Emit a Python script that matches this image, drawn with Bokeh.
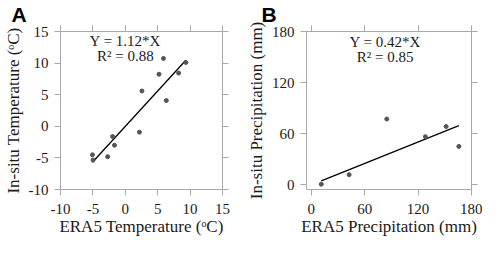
from bokeh.plotting import figure
from bokeh.layouts import row
from bokeh.models import LinearAxis, FixedTicker, Range1d, Label, Title
from bokeh.embed import file_html
from bokeh.resources import INLINE

# Panel A: temperature (°C)
era5_temp = [-5.07, -4.98, -2.73, -1.96, -1.67, 2.18, 2.57, 5.2, 5.89, 6.33, 8.23, 9.34]
insitu_temp = [-4.51, -5.34, -4.81, -1.62, -2.99, -0.93, 5.59, 8.24, 10.74, 4.07, 8.43, 10.1]
temp_slope = 1.12
temp_r2 = 0.88
temp_ticks = [-10, -5, 0, 5, 10, 15]
temp_tick_labels = ["-10", "-5", "0", "5", "10", "15"]

# Panel B: precipitation (mm)
era5_prec = [11.2, 42.5, 84.8, 128.2, 151.5, 165.8]
insitu_prec = [0.8, 12.0, 77.3, 56.5, 68.5, 45.2]
prec_slope = 0.42
prec_r2 = 0.85
prec_ticks = [0, 60, 120, 180]
prec_tick_labels = ["0", "60", "120", "180"]

SERIF = "Liberation Serif"
AXIS_COLOR = "#a8a8a8"
TEXT_COLOR = "#1a1a1a"


def style_axis(ax, ticks, labels, show_labels=True):
    ax.ticker = FixedTicker(ticks=ticks)
    ax.axis_line_color = AXIS_COLOR
    ax.axis_line_width = 1
    ax.major_tick_line_color = AXIS_COLOR
    ax.major_tick_out = 6
    ax.major_tick_in = 0
    ax.minor_tick_line_color = None
    ax.major_label_text_font = SERIF
    ax.major_label_text_font_size = "15px"
    ax.major_label_text_color = TEXT_COLOR
    ax.major_label_text_line_height = 1.0
    ax.major_label_standoff = 6
    ax.axis_label_text_font = SERIF
    ax.axis_label_text_font_size = "17px"
    ax.axis_label_text_font_style = "normal"
    ax.axis_label_text_color = TEXT_COLOR
    ax.axis_label_text_line_height = 0.9
    ax.axis_label_standoff = 3
    if show_labels:
        ax.major_label_overrides = {t: l for t, l in zip(ticks, labels)}
    else:
        ax.major_label_overrides = {t: "" for t in ticks}
        ax.major_label_standoff = 0
        ax.axis_label_standoff = 0


def make_panel(letter, letter_offset, xs, ys, slope, r2, xr, yr, ticks, labels,
               xlabel, ylabel, eq_pos, width, bl, br):
    p = figure(width=width, height=237, x_range=Range1d(*xr), y_range=Range1d(*yr),
               output_backend="svg", toolbar_location=None,
               x_axis_location=None, y_axis_location=None,
               min_border_left=bl, min_border_right=br,
               min_border_top=23, min_border_bottom=40)
    p.grid.visible = False
    p.outline_line_color = None
    p.background_fill_color = "white"
    p.border_fill_color = "white"

    p.title.text = letter
    p.title.text_font = "Liberation Sans"
    p.title.text_font_size = "21px"
    p.title.text_font_style = "bold"
    p.title.text_color = "black"
    p.title.align = "left"
    p.title.offset = letter_offset
    p.title.standoff = 0
    p.title.text_line_height = 0.6

    bottom = LinearAxis()
    left = LinearAxis(axis_label=ylabel)
    top = LinearAxis()
    right = LinearAxis()
    style_axis(bottom, ticks, labels)
    bottom.major_label_standoff = 8
    style_axis(left, ticks, labels)
    style_axis(top, ticks, labels, show_labels=False)
    style_axis(right, ticks, labels, show_labels=False)
    p.add_layout(bottom, "below")
    p.add_layout(left, "left")
    p.add_layout(top, "above")
    p.add_layout(right, "right")

    xtitle = Title(text=xlabel, align="center", vertical_align="top", text_font=SERIF,
                   text_font_size="17px", text_font_style="normal", text_color=TEXT_COLOR,
                   standoff=0, text_line_height=0.45)
    p.add_layout(xtitle, "below")

    x0, x1 = min(xs), max(xs)
    p.line([x0, x1], [slope * x0, slope * x1], line_color="black", line_width=1.3)
    p.scatter(xs, ys, size=4, fill_color="#555555", line_color="#555555")

    ex, ey1, ey2 = eq_pos
    p.add_layout(Label(x=ex, y=ey1, text=f"Y = {slope:.2f}*X", text_align="center",
                       text_baseline="middle", text_font=SERIF, text_font_size="15px",
                       text_color=TEXT_COLOR))
    p.add_layout(Label(x=ex, y=ey2, text=f"R\u00b2 = {r2:.2f}", text_align="center",
                       text_baseline="middle", text_font=SERIF, text_font_size="15px",
                       text_color=TEXT_COLOR))
    return p


pa = make_panel("A", -49, era5_temp, insitu_temp, temp_slope, temp_r2,
                (-10, 15), (-10, 15), temp_ticks, temp_tick_labels,
                "ERA5 Temperature (\u1d52C)", "In-situ Temperature (\u1d52C)",
                (0, 13.5, 11.1), 238, 48, 16)
pb = make_panel("B", -45, era5_prec, insitu_prec, prec_slope, prec_r2,
                (-5.4, 180), (-5.4, 180), prec_ticks, prec_tick_labels,
                "ERA5 Precipitation (mm)", "In-situ Precipitation (mm)",
                (83, 168, 150), 244, 68, 11)

layout = row(pa, pb)
open("out.html", "w").write(file_html(layout, INLINE))
